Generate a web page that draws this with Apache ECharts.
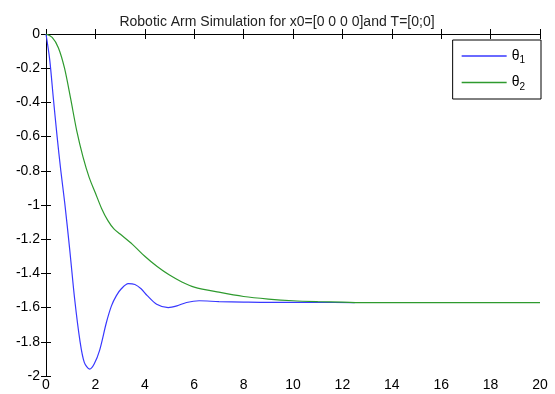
<!DOCTYPE html>
<html>
<head>
<meta charset="utf-8">
<script src="https://cdn.jsdelivr.net/npm/echarts@6/dist/echarts.min.js"></script>
<style>
  html, body { margin: 0; padding: 0; background: #fff; }
  #chart { width: 555px; height: 394px; }
</style>
</head>
<body>
<div id="chart"></div>
<script>
// values
const title = 'Robotic Arm Simulation for x0=[0 0 0 0]and T=[0;0]';
const xTicks = [0, 2, 4, 6, 8, 10, 12, 14, 16, 18, 20];
const yTicks = [0, -0.2, -0.4, -0.6, -0.8, -1, -1.2, -1.4, -1.6, -1.8, -2];

const t1 = [0, 0.15, 0.3, 0.45, 0.6, 0.76, 0.96, 1.16, 1.37, 1.55, 1.77, 1.95, 2.17, 2.44, 2.65, 2.85, 3.05, 3.33, 3.6, 3.85, 4.1, 4.48, 4.95, 5.3, 5.69, 6.2, 7, 8, 9, 10, 11, 12.5];
const theta1 = [0, -0.15, -0.38, -0.6, -0.8, -0.99, -1.26, -1.55, -1.79, -1.92, -1.96, -1.93, -1.85, -1.69, -1.59, -1.53, -1.49, -1.46, -1.465, -1.49, -1.53, -1.58, -1.6, -1.59, -1.57, -1.56, -1.565, -1.568, -1.57, -1.57, -1.57, -1.5708];

const t2 = [0, 0.25, 0.5, 0.75, 1, 1.25, 1.5, 1.75, 2, 2.25, 2.5, 2.75, 3, 3.5, 4, 4.5, 5, 5.5, 6, 7, 8, 9, 10, 11, 12, 13, 20];
const theta2 = [0, -0.02, -0.08, -0.2, -0.38, -0.57, -0.72, -0.84, -0.93, -1.02, -1.09, -1.14, -1.17, -1.23, -1.3, -1.36, -1.41, -1.45, -1.48, -1.51, -1.535, -1.55, -1.56, -1.565, -1.568, -1.5708, -1.5708];

const pairs = (xs, ys) => xs.map((x, i) => [x, ys[i]]);

const chart = echarts.init(document.getElementById('chart'));

const font = 'Liberation Sans, Arial, sans-serif';
const axisCommon = {
  type: 'value',
  axisLine: { show: true, lineStyle: { color: '#000', width: 1 } },
  axisTick: { show: true, inside: true, length: 5, lineStyle: { color: '#000' } },
  splitLine: { show: false }
};

chart.setOption({
  animation: false,
  backgroundColor: '#fff',
  title: {
    text: title,
    left: 272,
    textAlign: 'center',
    top: 10,
    textStyle: { fontFamily: font, fontSize: 14, fontWeight: 'normal', color: '#222' }
  },
  grid: { left: 46, right: 15, top: 34, bottom: 18 },
  legend: {
    data: ['theta1', 'theta2'],
    orient: 'vertical',
    right: 14,
    top: 40,
    padding: [9, 16, 7, 9],
    itemGap: 10,
    itemWidth: 45,
    itemHeight: 1.5,
    icon: 'rect',
    backgroundColor: '#fff',
    borderColor: '#000',
    borderWidth: 1,
    borderRadius: 0,
    formatter: (name) => '{a|θ}{b|' + name.slice(-1) + '}',
    textStyle: {
      fontFamily: font,
      color: '#000',
      rich: {
        a: { fontSize: 14, fontFamily: font, color: '#000' },
        b: { fontSize: 10, fontFamily: font, color: '#000', padding: [9, 0, 0, 0] }
      }
    }
  },
  xAxis: [
    Object.assign({}, axisCommon, {
      min: 0, max: 20, interval: 2,
      position: 'bottom',
      axisLabel: { color: '#000', fontFamily: font, fontSize: 14, margin: 2,
        formatter: (v) => xTicks.includes(v) ? String(v) : '' }
    }),
    Object.assign({}, axisCommon, {
      min: 0, max: 20, interval: 2,
      position: 'top',
      axisLabel: { show: false }
    })
  ],
  yAxis: [
    Object.assign({}, axisCommon, {
      min: -2, max: 0, interval: 0.2,
      position: 'left',
      axisLabel: { color: '#000', fontFamily: font, fontSize: 14, margin: 6,
        formatter: (v) => {
          const r = Math.round(v * 10) / 10;
          return yTicks.includes(r) ? String(r) : '';
        } }
    }),
    Object.assign({}, axisCommon, {
      min: -2, max: 0, interval: 0.2,
      position: 'right',
      axisLabel: { show: false }
    })
  ],
  series: [
    {
      name: 'theta1',
      type: 'line',
      data: pairs(t1, theta1),
      showSymbol: false,
      symbol: 'none',
      smooth: 0.3,
      lineStyle: { color: '#3838ff', width: 1.2 },
      itemStyle: { color: '#3838ff' }
    },
    {
      name: 'theta2',
      type: 'line',
      data: pairs(t2, theta2),
      showSymbol: false,
      symbol: 'none',
      smooth: 0.3,
      lineStyle: { color: '#2e9a2e', width: 1.2 },
      itemStyle: { color: '#2e9a2e' }
    }
  ]
});
</script>
</body>
</html>
